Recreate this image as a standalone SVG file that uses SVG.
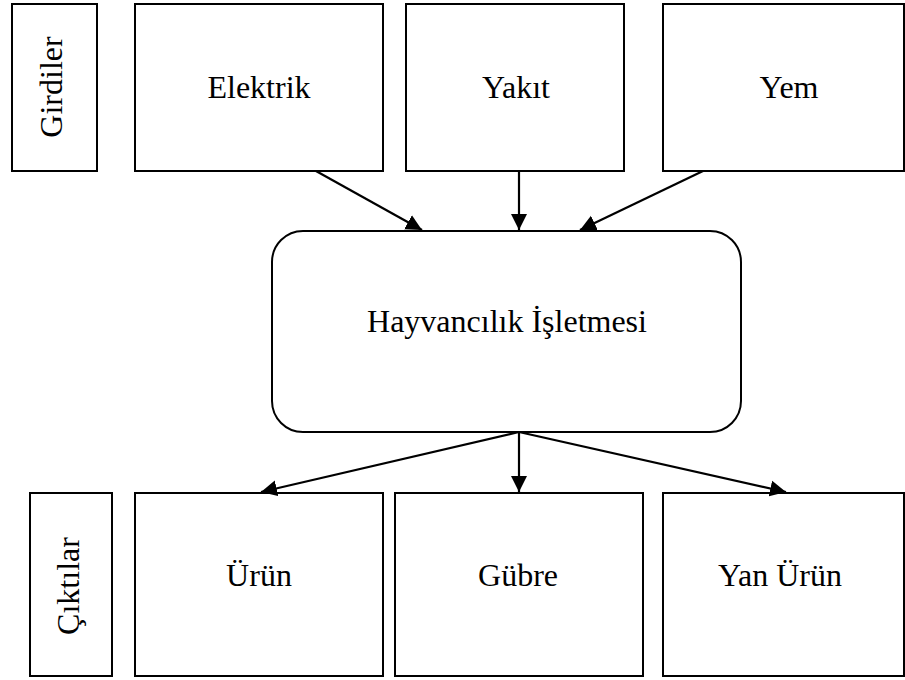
<svg xmlns="http://www.w3.org/2000/svg" width="905" height="680" viewBox="0 0 905 680">
<style>
.box{fill:#fff;stroke:#000;stroke-width:2}
.lbl{font-size:32px;fill:#000;text-anchor:middle}
.conn{stroke:#000;stroke-width:2.2;fill:none}
</style>
<defs>
<marker id="ah" markerUnits="userSpaceOnUse" markerWidth="17" markerHeight="18" refX="16" refY="9" orient="auto">
<path d="M0,1 L16,9 L0,17 Z" fill="#000"/>
</marker>
</defs>
<rect width="905" height="680" fill="#fff"/>
<g font-family="Liberation Serif, Tinos, DejaVu Serif, serif">
<g id="girdiler"><rect class="box" x="12" y="4" width="85" height="167"/><text class="lbl" transform="translate(62,87) rotate(-90)">Girdiler</text></g>
<g id="elektrik"><rect class="box" x="135" y="4" width="248" height="167"/><text class="lbl" x="259" y="98">Elektrik</text></g>
<g id="yakit"><rect class="box" x="406" y="4" width="218" height="167"/><text class="lbl" x="516" y="98">Yakıt</text></g>
<g id="yem"><rect class="box" x="663" y="4" width="241" height="167"/><text class="lbl" x="789" y="98">Yem</text></g>
<g id="isletme"><rect class="box" x="272" y="231" width="469" height="201" rx="31" ry="31"/><text class="lbl" x="507" y="332">Hayvancılık İşletmesi</text></g>
<g id="ciktilar"><rect class="box" x="30" y="493" width="82" height="183"/><text class="lbl" transform="translate(79,586) rotate(-90)">Çıktılar</text></g>
<g id="urun"><rect class="box" x="135" y="493" width="248" height="183"/><text class="lbl" x="259" y="586">Ürün</text></g>
<g id="gubre"><rect class="box" x="395" y="493" width="248" height="183"/><text class="lbl" x="518" y="586">Gübre</text></g>
<g id="yanurun"><rect class="box" x="663" y="493" width="241" height="183"/><text class="lbl" x="780" y="586">Yan Ürün</text></g>
</g>
<g id="connectors">
<line class="conn" x1="316" y1="171" x2="422" y2="230" marker-end="url(#ah)"/>
<line class="conn" x1="519" y1="171" x2="519" y2="230" marker-end="url(#ah)"/>
<line class="conn" x1="703" y1="171" x2="580" y2="230" marker-end="url(#ah)"/>
<line class="conn" x1="519" y1="432" x2="261" y2="492" marker-end="url(#ah)"/>
<line class="conn" x1="519" y1="432" x2="519" y2="492" marker-end="url(#ah)"/>
<line class="conn" x1="519" y1="432" x2="786" y2="492" marker-end="url(#ah)"/>
</g>
</svg>
